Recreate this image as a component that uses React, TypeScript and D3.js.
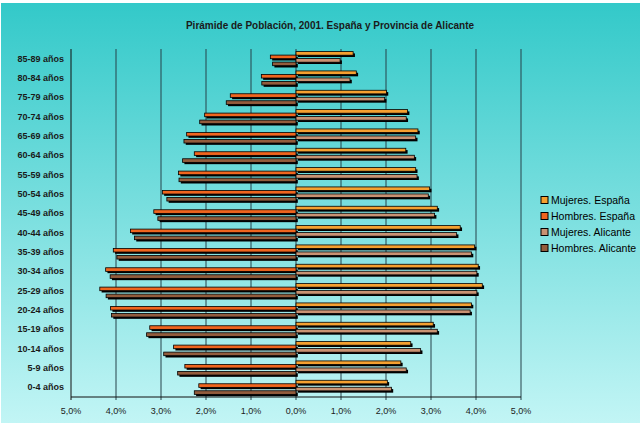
import * as React from "react";
import * as d3 from "d3";

// age groups, top to bottom
const ageGroups = [
  "85-89 años", "80-84 años", "75-79 años", "70-74 años", "65-69 años", "60-64 años",
  "55-59 años", "50-54 años", "45-49 años", "40-44 años", "35-39 años", "30-34 años",
  "25-29 años", "20-24 años", "15-19 años", "10-14 años", "5-9 años", "0-4 años",
];

// percentages of total population
const mujeresEspana = [1.27, 1.34, 2.01, 2.48, 2.71, 2.44, 2.66, 2.97, 3.14, 3.65, 3.97, 4.05, 4.14, 3.9, 3.05, 2.55, 2.33, 2.03];
const hombresEspana = [0.57, 0.77, 1.46, 2.03, 2.43, 2.26, 2.61, 2.97, 3.16, 3.68, 4.06, 4.23, 4.36, 4.12, 3.25, 2.72, 2.47, 2.16];
const mujeresAlicante = [0.98, 1.2, 1.97, 2.45, 2.66, 2.63, 2.69, 2.94, 3.08, 3.57, 3.9, 4.02, 4.02, 3.87, 3.14, 2.77, 2.45, 2.12];
const hombresAlicante = [0.52, 0.76, 1.55, 2.14, 2.49, 2.52, 2.6, 2.87, 3.07, 3.59, 3.98, 4.13, 4.22, 4.1, 3.32, 2.94, 2.63, 2.26];

const xTicks = [-5, -4, -3, -2, -1, 0, 1, 2, 3, 4, 5];

const seriesNames = ["Mujeres. España", "Hombres. España", "Mujeres. Alicante", "Hombres. Alicante"];
const seriesColors = ["#f5a030", "#f0651e", "#c99272", "#935c3c"];

const W = 640;
const H = 423;
const plot = { left: 71, right: 521, top: 49, bottom: 397 };
const FONT = '"Liberation Sans", Arial, sans-serif';

export default function App() {
  const x = d3.scaleLinear().domain([-5, 5]).range([plot.left, plot.right]);
  const y = d3.scaleBand<string>().domain(ageGroups).range([plot.top, plot.bottom]);
  const bw = y.bandwidth();

  // each series: values, side (-1 left / +1 right), slot in band
  const series = [
    { values: mujeresEspana, side: 1 },
    { values: hombresEspana, side: -1 },
    { values: mujeresAlicante, side: 1 },
    { values: hombresAlicante, side: -1 },
  ];
  const slot = 3.5;
  const barH = 3.6;
  const slotStart = 2.6;

  const fmt = (t: number) => Math.abs(t).toFixed(1).replace(".", ",") + "%";

  return (
    <div style={{ position: "absolute", left: 0, top: 0 }}>
      <svg width={W} height={H} style={{ display: "block" }}>
        <defs>
          <linearGradient id="bg" x1="0" y1="0" x2="0" y2="1">
            <stop offset="0" stopColor="#33c9c9" />
            <stop offset="1" stopColor="#c2f5f5" />
          </linearGradient>
        </defs>
        <rect x={0} y={0} width={W} height={H} fill="#ffffff" />
        <rect x={1} y={3} width={W - 1} height={H - 3} fill="url(#bg)" />

        <text
          x={330}
          y={29}
          textAnchor="middle"
          fontFamily={FONT}
          fontWeight="bold"
          fontSize={10}
          fill="#1a1a1a"
        >
          Pirámide de Población, 2001. España y Provincia de Alicante
        </text>

        {/* gridlines */}
        {xTicks.map((t) => (
          <line
            key={"g" + t}
            x1={x(t)}
            x2={x(t)}
            y1={plot.top}
            y2={plot.bottom + 3}
            stroke={t === -5 ? "#111" : "#26434a"}
            strokeWidth={1}
          />
        ))}
        <line x1={plot.left} x2={plot.right} y1={plot.bottom} y2={plot.bottom} stroke="#111" strokeWidth={1} />

        {/* bars */}
        {series.map((s, si) =>
          s.values.map((v, i) => {
            const yy = (y(ageGroups[i]) as number) + slotStart + si * slot;
            const x0 = s.side > 0 ? x(0) : x(-v);
            const wdt = Math.abs(x(v) - x(0));
            return (
              <g key={si + "-" + i}>
                <rect x={x0 + 1.8} y={yy + 1.8} width={wdt} height={barH} fill="#000" />
                <rect x={x0} y={yy} width={wdt} height={barH} fill={seriesColors[si]} stroke="#000" strokeWidth={0.8} />
              </g>
            );
          })
        )}

        {/* category labels */}
        {ageGroups.map((g) => (
          <text
            key={g}
            x={64}
            y={(y(g) as number) + bw / 2 + 3}
            textAnchor="end"
            fontFamily={FONT}
            fontWeight="bold"
            fontSize={9}
            fill="#1a1a1a"
          >
            {g}
          </text>
        ))}

        {/* tick labels */}
        {xTicks.map((t) => (
          <text
            key={"t" + t}
            x={x(t)}
            y={414}
            textAnchor="middle"
            fontFamily={FONT}
            fontSize={9}
            fill="#1a1a1a"
          >
            {fmt(t)}
          </text>
        ))}

        {/* legend */}
        {seriesNames.map((n, i) => (
          <g key={n} transform={`translate(541, ${200 + i * 16})`}>
            <rect x={0} y={-3.5} width={7} height={7} fill={seriesColors[i]} stroke="#000" strokeWidth={1} />
            <text x={10} y={4} fontFamily={FONT} fontSize={10.5} fill="#000">
              {n}
            </text>
          </g>
        ))}
      </svg>
    </div>
  );
}
